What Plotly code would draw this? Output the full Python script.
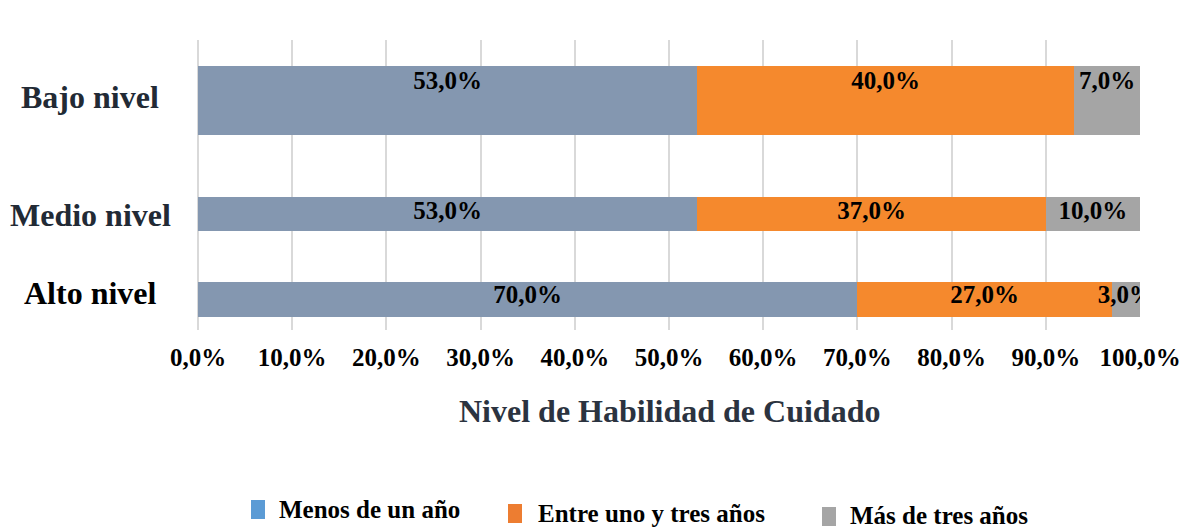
import plotly.graph_objects as go

categories = ["Bajo nivel", "Medio nivel", "Alto nivel"]
series_names = ["Menos de un año", "Entre uno y tres años", "Más de tres años"]
menos_un_ano = [53.0, 53.0, 70.0]
entre_uno_tres = [40.0, 37.0, 27.0]
mas_tres = [7.0, 10.0, 3.0]
x_tickvals = [0, 10, 20, 30, 40, 50, 60, 70, 80, 90, 100]
x_ticktext = ["0,0%", "10,0%", "20,0%", "30,0%", "40,0%", "50,0%",
              "60,0%", "70,0%", "80,0%", "90,0%", "100,0%"]
axis_title = "Nivel de Habilidad de Cuidado"

# layout (pixel-like units on the y axis)
bar_pos = [60.5, 174, 259.5]
bar_w = [69, 34, 35]
label_pos = [43, 173, 257]
cat_label_pos = [57, 175, 253]

bar_colors = ["#8497B0", "#F5892D", "#A5A5A5"]
legend_colors = ["#5B9BD5", "#ED7D31", "#A5A5A5"]
FONT = "Liberation Serif, Times New Roman, serif"

W, H = 1180, 529
L, R, T, B = 198, 40, 40, 199
pw, ph = W - L - R, H - T - B

def px_x(x):
    return (x - L) / pw

def px_y(y):
    return 1 - (y - T) / ph

fig = go.Figure()
series = [menos_un_ano, entre_uno_tres, mas_tres]
for name, vals, col in zip(series_names, series, bar_colors):
    fig.add_trace(go.Bar(
        y=bar_pos, x=vals, width=bar_w, orientation="h", name=name,
        marker=dict(color=col, line=dict(width=0)), showlegend=False,
        hoverinfo="x+name"))

# data labels as a clipped text trace
lx, ly, lt = [], [], []
for i in range(len(categories)):
    start = 0
    for vals in series:
        v = vals[i]
        lx.append(start + v / 2)
        ly.append(label_pos[i])
        lt.append("<b>" + f"{v:.1f}".replace(".", ",") + "%</b>")
        start += v
fig.add_trace(go.Scatter(
    x=lx, y=ly, text=lt, mode="text", textposition="middle center",
    textfont=dict(family=FONT, size=25, color="#000000"),
    cliponaxis=True, showlegend=False, hoverinfo="skip"))

annotations = []
# category labels
cat_colors = ["#222A35", "#222A35", "#000000"]
for c, yp, cc in zip(categories, cat_label_pos, cat_colors):
    annotations.append(dict(
        x=px_x(90), y=yp, xref="paper", yref="y", text=f"<b>{c}</b>",
        showarrow=False, xanchor="center",
        font=dict(family=FONT, size=32, color=cc)))

# axis title
annotations.append(dict(
    x=0.5, y=px_y(411), xref="paper", yref="paper", text=f"<b>{axis_title}</b>",
    showarrow=False, yanchor="middle",
    font=dict(family=FONT, size=32, color="#2B3340")))

# legend (manual)
legend_items = [
    (251, 500, 519, 277, 509),
    (508, 504, 523, 536, 513),
    (822, 507, 526, 848, 515),
]
shapes = []
for (sx, sy0, sy1, tx, ty), name, col in zip(legend_items, series_names, legend_colors):
    shapes.append(dict(type="rect", xref="paper", yref="paper",
                       x0=px_x(sx), x1=px_x(sx + 14), y0=px_y(sy1), y1=px_y(sy0),
                       fillcolor=col, line=dict(width=0)))
    annotations.append(dict(
        x=px_x(tx), y=px_y(ty), xref="paper", yref="paper", text=f"<b>{name}</b>",
        showarrow=False, xanchor="left", yanchor="middle",
        font=dict(family=FONT, size=25, color="#000000")))

fig.update_layout(
    width=W, height=H, margin=dict(l=L, r=R, t=T, b=B, autoexpand=False),
    barmode="stack", bargap=0,
    plot_bgcolor="white", paper_bgcolor="white",
    font=dict(family=FONT, color="#000000"),
    annotations=annotations, shapes=shapes, showlegend=False,
    xaxis=dict(range=[0, 100], tickvals=x_tickvals, ticktext=[f"<b>{t}</b>" for t in x_ticktext],
               showgrid=True, gridcolor="#D9D9D9", gridwidth=2,
               zeroline=True, zerolinecolor="#D9D9D9", zerolinewidth=2,
               showline=False, ticks="", ticklabelstandoff=10,
               ticklabeloverflow="allow",
               tickfont=dict(family=FONT, size=25, color="#000000")),
    yaxis=dict(range=[290, 0], showgrid=False, zeroline=False, showticklabels=False,
               ticks="", showline=False),
)

fig.write_html("out.html", config={"displayModeBar": False},
               post_script="document.body.style.margin='0';document.body.style.overflow='hidden';")
